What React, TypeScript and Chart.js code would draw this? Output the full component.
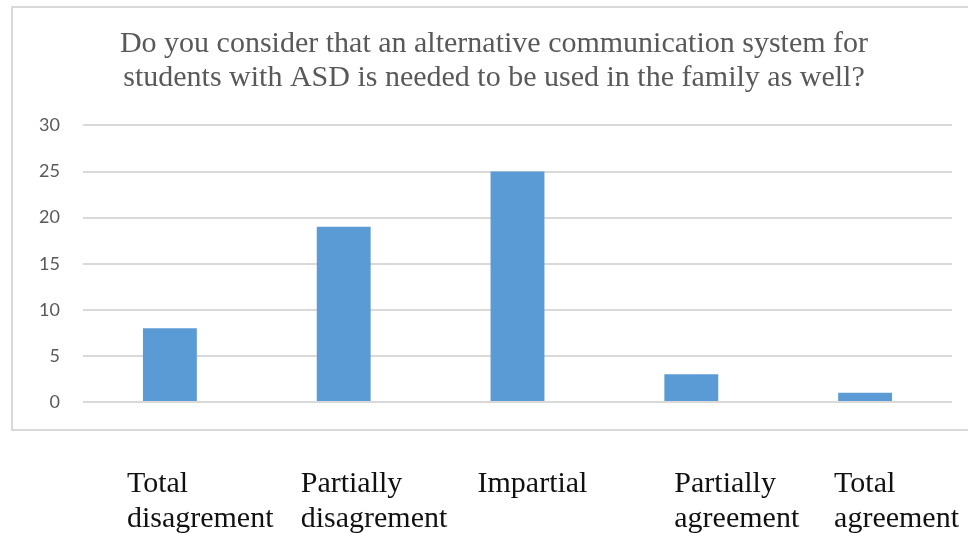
import React, { useEffect, useRef } from "react";
import { Chart, registerables } from "chart.js";

Chart.register(...registerables);

// Survey answers and counts
const categories: string[][] = [
  ["Total", "disagrement"],
  ["Partially", "disagrement"],
  ["Impartial"],
  ["Partially", "agreement"],
  ["Total", "agreement"],
];
const responses: number[] = [8, 19, 25, 3, 1];
const titleLines: string[] = [
  "Do you consider that an alternative communication system for",
  "students with ASD is needed to be used in the family as well?",
];

// Horizontal offset of each category caption's left edge from its bar centre
const captionShift = [-43, -43, -40, -17, -31];

const BAR = "#5B9BD5";
const GRID = "#D9D9D9";
const GREY = "#595959";
const SERIF = "'Liberation Serif', 'Times New Roman', serif";

// Frame around the plot and captions under it
const framePlugin = {
  id: "frameAndCaptions",
  beforeDraw(chart: any) {
    const { ctx } = chart;
    ctx.save();
    ctx.fillStyle = "#ffffff";
    ctx.fillRect(0, 0, chart.width, chart.height);
    ctx.strokeStyle = GRID;
    ctx.lineWidth = 2;
    ctx.strokeRect(12, 7, chart.width + 20, 423);
    ctx.restore();
  },
  afterDraw(chart: any) {
    const { ctx } = chart;
    const xs = chart.scales.x;
    ctx.save();
    ctx.fillStyle = "#111111";
    ctx.font = `30px ${SERIF}`;
    ctx.textAlign = "left";
    ctx.textBaseline = "alphabetic";
    categories.forEach((lines, i) => {
      const x = xs.getPixelForValue(i) + captionShift[i];
      lines.forEach((line, j) => {
        ctx.fillText(line, x, 492 + j * 35);
      });
    });
    ctx.restore();
  },
};

export default function App() {
  const ref = useRef<HTMLCanvasElement | null>(null);

  useEffect(() => {
    document.body.style.margin = "0";
    const canvas = ref.current;
    if (!canvas) return;
    const chart = new Chart(canvas, {
      type: "bar",
      data: {
        labels: categories.map((c) => c.join(" ")),
        datasets: [
          {
            data: responses,
            backgroundColor: BAR,
            borderWidth: 0,
            categoryPercentage: 1,
            barPercentage: 0.31,
          },
        ],
      },
      plugins: [framePlugin],
      options: {
        responsive: false,
        animation: false,
        devicePixelRatio: 1,
        layout: { padding: { left: 36, right: 16, top: 0, bottom: 131 } },
        plugins: {
          legend: { display: false },
          tooltip: { enabled: false },
          title: {
            display: true,
            text: titleLines,
            color: GREY,
            font: { family: SERIF, size: 30, weight: "normal", lineHeight: 1.14 },
            padding: { top: 27, bottom: 30 },
          },
        },
        scales: {
          x: {
            grid: { display: false, drawTicks: false },
            border: { display: false },
            ticks: { display: false },
            afterFit(scale: any) {
              scale.height = 0;
            },
          },
          y: {
            min: 0,
            max: 30,
            ticks: {
              stepSize: 5,
              color: GREY,
              padding: 23,
              font: { family: "Lato, 'Open Sans', sans-serif", size: 18 },
            },
            grid: { color: GRID, lineWidth: 2, drawTicks: false },
            border: { display: false },
            afterFit(scale: any) {
              scale.width = 47;
            },
          },
        },
      },
    });
    return () => chart.destroy();
  }, []);

  return (
    <div style={{ position: "fixed", left: 0, top: 0, width: 968, height: 533, overflow: "hidden", background: "#fff" }}>
      <canvas ref={ref} width={968} height={533} style={{ display: "block", width: 968, height: 533 }} />
    </div>
  );
}
